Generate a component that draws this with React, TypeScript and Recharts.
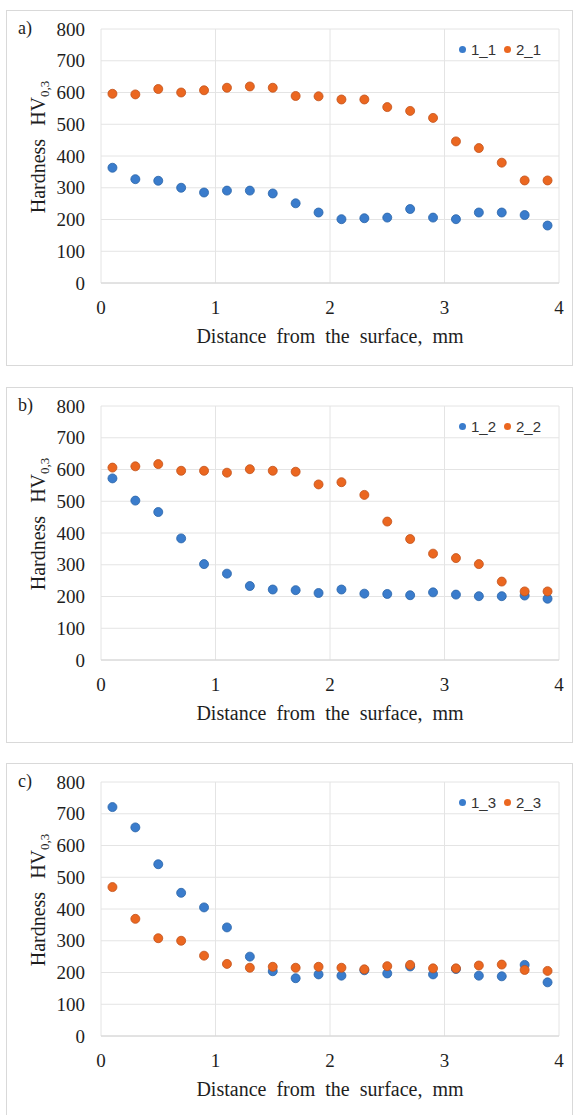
import { ScatterChart, Scatter, XAxis, YAxis, CartesianGrid, Legend, Label } from 'recharts';

// distance from the surface, mm
const depth = [0.1, 0.3, 0.5, 0.7, 0.9, 1.1, 1.3, 1.5, 1.7, 1.9, 2.1, 2.3, 2.5, 2.7, 2.9, 3.1, 3.3, 3.5, 3.7, 3.9];

const xTicks = [0, 1, 2, 3, 4];
const yTicks = [0, 100, 200, 300, 400, 500, 600, 700, 800];

// a)
const hv1_1 = [363, 327, 322, 300, 285, 291, 291, 282, 251, 222, 201, 204, 206, 233, 206, 201, 222, 222, 214, 181];
const hv2_1 = [596, 594, 611, 600, 607, 615, 619, 615, 589, 588, 578, 578, 554, 542, 520, 446, 425, 379, 323, 323];

// b)
const hv1_2 = [572, 502, 466, 383, 302, 272, 233, 222, 220, 211, 222, 209, 208, 204, 213, 206, 201, 201, 203, 193];
const hv2_2 = [606, 610, 617, 596, 596, 590, 601, 596, 593, 553, 560, 520, 436, 381, 335, 321, 302, 247, 216, 216];

// c)
const hv1_3 = [721, 657, 541, 451, 405, 342, 250, 204, 182, 194, 190, 207, 197, 219, 194, 211, 190, 188, 224, 169];
const hv2_3 = [469, 369, 308, 300, 253, 227, 215, 218, 215, 218, 215, 210, 220, 224, 213, 213, 222, 225, 208, 205];

const BLUE = '#3a7ccc';
const ORANGE = '#eb6720';
const SERIF = '"Liberation Serif", "Times New Roman", serif';

function toPoints(values: number[]) {
  return depth.map((x, i) => ({ x, y: values[i] }));
}

function Dot(props: any) {
  const { cx, cy, fill, stroke } = props;
  return <circle cx={cx} cy={cy} r={4.5} fill={fill} stroke={stroke} strokeWidth={0.8} />;
}

function LegendBox(props: any) {
  const { payload } = props;
  return (
    <div style={{ display: 'flex', alignItems: 'center', fontFamily: '"Liberation Sans", Arial, sans-serif', fontSize: 15, color: '#333' }}>
      {(payload || []).map((item: any) => (
        <div key={item.value} style={{ display: 'flex', alignItems: 'center', marginRight: 8 }}>
          <span style={{ width: 7, height: 7, borderRadius: '50%', background: item.color, marginRight: 5, display: 'inline-block' }} />
          <span>{item.value}</span>
        </div>
      ))}
    </div>
  );
}

function YTitle(props: any) {
  const { viewBox } = props;
  const cx = 31;
  const cy = viewBox.y + viewBox.height / 2 - 9;
  return (
    <text x={cx} y={cy} transform={`rotate(-90, ${cx}, ${cy})`} textAnchor="middle" dominantBaseline="central"
      fontFamily={SERIF} fontSize={20} fill="#1e1e1e" style={{ wordSpacing: 8 }}>
      Hardness HV<tspan fontSize={13} dy={6}>0,3</tspan>
    </text>
  );
}

function XTitle(props: any) {
  const { viewBox } = props;
  return (
    <text x={viewBox.x + viewBox.width / 2} y={viewBox.y + 53} textAnchor="middle" dominantBaseline="central"
      fontFamily={SERIF} fontSize={20} fill="#1e1e1e" style={{ wordSpacing: 5 }}>
      Distance from the surface, mm
    </text>
  );
}

interface PanelProps {
  letter: string
  top: number
  first: number[]
  second: number[]
  firstName: string
  secondName: string
}

function Panel({ letter, top, first, second, firstName, secondName }: PanelProps) {
  const tick = { fontFamily: SERIF, fontSize: 19, fill: '#1e1e1e' };
  return (
    <div style={{ position: 'absolute', left: 6, top, width: 567, height: 356, boxSizing: 'border-box', border: '1px solid #d9d9d9', background: '#fff' }}>
      <div style={{ position: 'absolute', left: 11, top: 8, fontFamily: SERIF, fontSize: 18, lineHeight: '18px', color: '#1e1e1e', zIndex: 2 }}>
        {letter}
      </div>
      <ScatterChart width={565} height={354} margin={{ top: 18, right: 13, bottom: 0, left: 0 }}>
        <CartesianGrid stroke="#e4e4e4" />
        <XAxis type="number" dataKey="x" domain={[0, 4]} ticks={xTicks} height={82}
          tick={tick} tickLine={false} tickMargin={12} axisLine={{ stroke: '#d4d4d4' }}>
          <Label content={<XTitle />} />
        </XAxis>
        <YAxis type="number" dataKey="y" domain={[0, 800]} ticks={yTicks} width={94}
          tick={tick} tickLine={false} tickMargin={10} axisLine={false}>
          <Label content={<YTitle />} />
        </YAxis>
        <Legend layout="horizontal" verticalAlign="middle" align="center" content={<LegendBox />}
          wrapperStyle={{ top: 30, left: 452, right: 'auto', width: 110, height: 18 }} />
        <Scatter name={firstName} data={toPoints(first)} fill={BLUE} stroke="#2a64a8" shape={<Dot />} isAnimationActive={false} />
        <Scatter name={secondName} data={toPoints(second)} fill={ORANGE} stroke="#c1521a" shape={<Dot />} isAnimationActive={false} />
      </ScatterChart>
    </div>
  );
}

export default function App() {
  return (
    <div style={{ position: 'absolute', left: 0, top: 0, width: 575, height: 1115, background: '#fff' }}>
      <Panel letter="a)" top={10} first={hv1_1} second={hv2_1} firstName="1_1" secondName="2_1" />
      <Panel letter="b)" top={387} first={hv1_2} second={hv2_2} firstName="1_2" secondName="2_2" />
      <Panel letter="c)" top={763} first={hv1_3} second={hv2_3} firstName="1_3" secondName="2_3" />
    </div>
  );
}
